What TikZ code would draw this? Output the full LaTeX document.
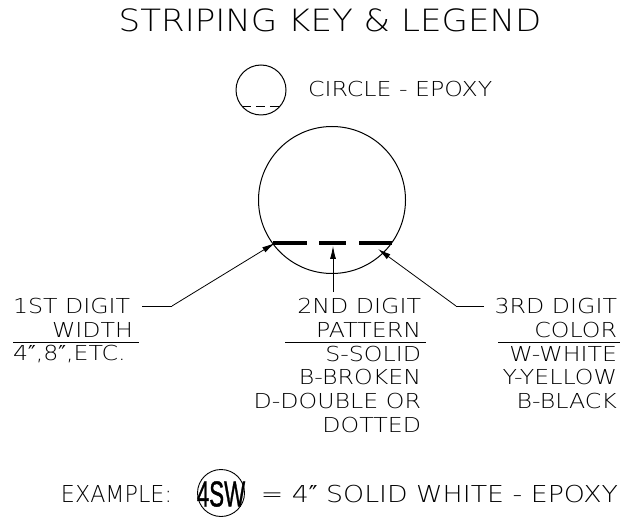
\documentclass[tikz,border=0pt]{standalone}
\usepackage{fontspec}
\usepackage{graphicx}
\usetikzlibrary{arrows.meta}
\newfontfamily\cadfont{DejaVu Sans ExtraLight}[FakeStretch=1.15]
\newfontfamily\titlefont{DejaVu Sans ExtraLight}[FakeStretch=1.11]
\newfontfamily\primefont{DejaVu Sans}
\newfontfamily\numfont{Liberation Sans}[FakeBold=1.2]
\newcommand{\inch}{{\primefont ″}}
\begin{document}
\begin{tikzpicture}[x=1pt,y=-1pt,
  txt/.style={font=\cadfont\fontsize{20.6}{24}\selectfont, inner sep=0pt, outer sep=0pt},
  ttl/.style={font=\titlefont\fontsize{30.7}{36}\selectfont, inner sep=0pt, outer sep=0pt},
  extxt/.style={font=\cadfont\fontsize{23.3}{28}\selectfont, inner sep=0pt, outer sep=0pt},
  ring/.style={circle, draw, line width=1pt, inner sep=0pt, outer sep=0pt},
  stripe/.style={line width=4pt},
  leader/.style={line width=0.8pt},
  arr/.style={leader, -{Latex[length=13pt,width=6pt]}},
  rulel/.style={line width=0.9pt}]
\path[use as bounding box] (0,0) rectangle (620,518);

% title
\node[ttl, anchor=base] (title) at (330,31.7) {STRIPING KEY \& LEGEND};

% small legend circle
\node[ring, minimum size=50pt] (small) at (261,90) {};
\draw[line width=0.8pt, dash pattern=on 9pt off 5pt] (small.220) -- (small.320);
\node[txt, anchor=base west] (circtxt) at (308,97) {CIRCLE - EPOXY};

% big circle with stripes
\node[ring, minimum size=147pt] (big) at (332,200) {};
\coordinate (s1a) at (273,243); \coordinate (s1b) at (307,243);
\coordinate (s2a) at (319,243); \coordinate (s2b) at (346,243);
\coordinate (s3a) at (359,243); \coordinate (s3b) at (392,243);
\draw[stripe] (s1a) -- (s1b);
\draw[stripe] (s2a) -- (s2b);
\draw[stripe] (s3a) -- (s3b);

% tips and bends
\coordinate (tipL) at (275,243);
\coordinate (tipM) at (333,246);
\coordinate (tipR) at (378,249);
\coordinate (startL) at (142,306);
\coordinate (bendL) at (172,306);
\coordinate (startM) at (333,292);
\coordinate (startR) at (484,306);
\coordinate (bendR) at (456,306);

\draw[leader] (startL) -- (bendL);
\draw[arr] (bendL) -- (tipL);
\draw[arr] (startM) -- (tipM);
\draw[leader] (startR) -- (bendR);
\draw[arr] (bendR) -- (tipR);

% 1st digit
\node[txt, anchor=base west] (d1) at (13,313) {1ST DIGIT};
\node[txt, anchor=base east] (d1b) at (133,337) {WIDTH};
\coordinate (u1a) at (13,342); \coordinate (u1b) at (139,342);
\draw[rulel] (u1a) -- (u1b);
\node[txt, anchor=base west] (d1c) at (13,360) {4\inch,8\inch,ETC.};

% 2nd digit
\node[txt, anchor=base east] (d2) at (421,313) {2ND DIGIT};
\node[txt, anchor=base east] (d2b) at (421,337) {PATTERN};
\coordinate (u2a) at (285,342); \coordinate (u2b) at (426,342);
\draw[rulel] (u2a) -- (u2b);
\node[txt, anchor=base east] (d2c) at (421,361) {S-SOLID};
\node[txt, anchor=base east] (d2d) at (421,384.5) {B-BROKEN};
\node[txt, anchor=base east] (d2e) at (421,408) {D-DOUBLE OR};
\node[txt, anchor=base east] (d2f) at (421,432) {DOTTED};

% 3rd digit
\node[txt, anchor=base east] (d3) at (617,313) {3RD DIGIT};
\node[txt, anchor=base east] (d3b) at (617,337) {COLOR};
\coordinate (u3a) at (498,342); \coordinate (u3b) at (620,342);
\draw[rulel] (u3a) -- (u3b);
\node[txt, anchor=base east] (d3c) at (617,361) {W-WHITE};
\node[txt, anchor=base east] (d3d) at (617,384.5) {Y-YELLOW};
\node[txt, anchor=base east] (d3e) at (617,408) {B-BLACK};

% example
\node[extxt, anchor=base east] (exl) at (172,502) {\resizebox{111pt}{\height}{EXAMPLE:}};
\node[ring, minimum size=47pt, line width=0.9pt] (exc) at (221,493) {};
\node[inner sep=0pt] (exn) at (221,494) {\numfont\fontsize{36}{36}\selectfont\scalebox{0.62}[1]{4SW}};
\node[extxt, anchor=base east] (exr) at (618,502) {= 4\inch{} SOLID WHITE - EPOXY};
\end{tikzpicture}
\end{document}
